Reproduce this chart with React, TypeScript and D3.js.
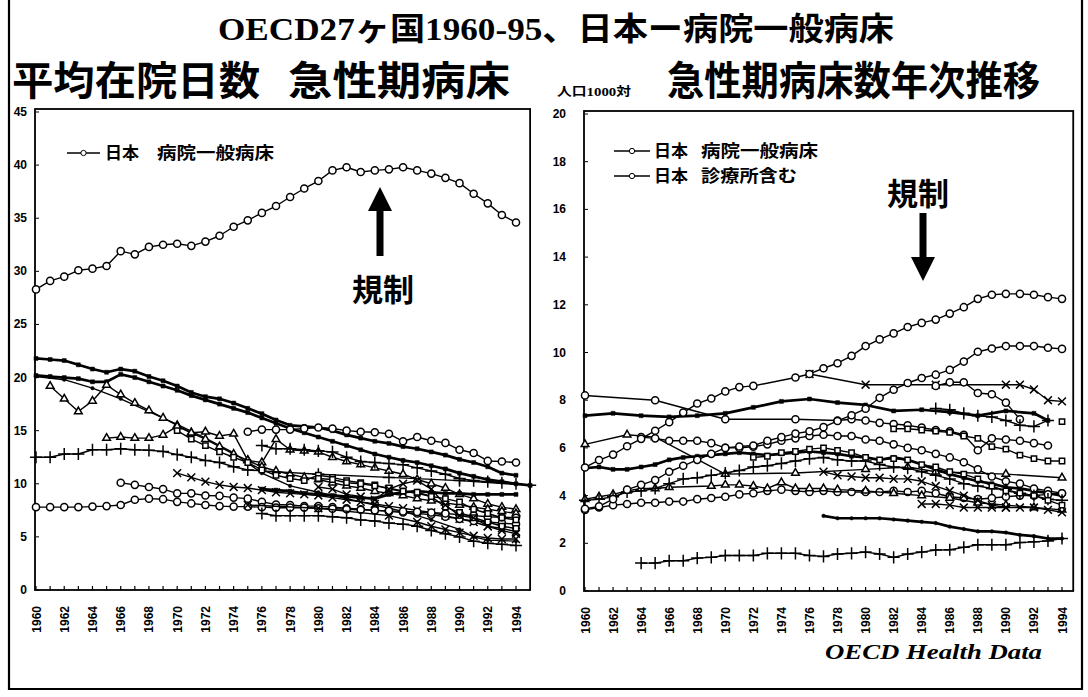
import * as d3 from "d3";
import React, { useEffect, useRef } from "react";

type Pt = [number, number];

function yearly(start: number, vals: number[]): Pt[] {
    return vals.map((v, i) => [start + i, v] as Pt);
}

// ---- left chart: average length of stay (days), acute beds ----
const leftJapan = yearly(1960, [28.3, 29.1, 29.5, 30.1, 30.25, 30.5, 31.9, 31.6, 32.3, 32.5, 32.6, 32.4, 32.8, 33.35, 34.2, 34.8, 35.5, 36.15, 37.0, 37.8, 38.5, 39.5, 39.8, 39.35, 39.5, 39.6, 39.8, 39.5, 39.2, 38.8, 38.3, 37.3, 36.4, 35.3, 34.6]);
const leftA = yearly(1960, [21.8, 21.7, 21.6, 21.2, 20.8, 20.5, 20.8, 20.6, 20.1, 19.7, 19.2, 18.6, 18.2, 18.0, 17.6, 17.1, 16.6, 16.0, 15.5, 15.4, 15.3, 15.0, 14.6, 14.3, 14.0, 13.8, 13.5, 13.3, 13.0, 12.7, 12.3, 12.0, 11.6, 11.0, 10.8]);
const leftB = yearly(1960, [20.2, 20.1, 20.0, 19.9, 19.6, 19.6, 20.3, 20.0, 19.6, 19.2, 18.8, 18.3, 17.9, 17.5, 17.1, 16.7, 16.2, 15.7, 15.2, 14.8, 14.4, 14.0, 13.6, 13.2, 12.8, 12.5, 12.2, 12.0, 11.7, 11.4, 11.0, 10.7, 10.4, 10.2, 10.0, 9.85]);
const leftC: Pt[] = [[1960, 20.1], [1962, 19.8], [1964, 19.0], [1966, 18.0], [1968, 16.8], [1970, 15.6], [1972, 14.3], [1974, 12.9], [1976, 11.0], [1978, 9.8], [1980, 9.2], [1982, 8.6], [1984, 8.0], [1986, 7.4], [1988, 6.6], [1990, 5.7], [1991, 5.0], [1992, 4.7], [1994, 4.6]];
const leftTri1 = yearly(1961, [19.2, 18.0, 16.8, 17.8, 19.3, 18.4, 17.6, 16.9, 16.2, 15.5, 14.8, 14.2, 13.5, 12.8, 12.2, 12.0, 14.2, 13.2, 13.1, 13.0, 12.5, 12.1, 11.8, 11.5, 11.2, 10.9, 10.4, 10.0, 9.6, 9.0, 8.6, 8.1, 7.8, 7.6]);
const leftTri2 = yearly(1965, [14.3, 14.4, 14.3, 14.3, 14.6, 15.4, 14.8, 14.9, 14.5, 14.7, 12.2, 11.6, 11.2, 10.9, 10.6, 10.4, 10.1, 9.8, 9.6, 9.3, 9.1, 8.9, 8.6, 8.4, 8.2, 8.0, 7.8, 7.6, 7.4, 7.2]);
const leftPlus1: Pt[] = [...yearly(1960, [12.5, 12.5, 12.8, 12.8, 13.2, 13.2, 13.3, 13.2, 13.15, 13.05, 12.75, 12.5, 12.2, 12.0, 11.6, 11.3]), [1980, 10.9], [1985, 10.6], [1990, 10.3], [1995, 9.85]];
const leftPlus2 = yearly(1976, [13.6, 13.3, 13.3, 13.2, 13.1, 13.0, 12.5, 12.1, 12.0, 11.9, 11.8, 11.5, 11.2, 10.9, 10.5, 10.3, 10.2, 10.1, 10.0]);
const leftCirc1 = yearly(1975, [14.9, 15.1, 15.1, 15.1, 15.2, 15.3, 15.2, 15.0, 14.9, 14.85, 14.7, 14.0, 14.4, 14.05, 13.85, 13.2, 12.9, 12.15, 12.1, 12.0]);
const leftX1 = yearly(1970, [11.0, 10.6, 10.2, 9.9, 9.7, 9.6, 9.4, 9.2, 9.1, 9.0, 8.9, 8.7, 8.5, 8.3, 8.1, 7.9, 7.7, 7.5, 7.3, 7.0, 6.7, 6.4, 6.0, 5.8, 5.5]);
const leftCirc2 = yearly(1966, [10.1, 9.9, 9.7, 9.5, 9.1, 9.1, 8.9, 8.86, 8.7, 8.6, 8.3, 8.05, 8.0, 7.9, 7.9, 7.8, 7.7, 7.6, 7.5, 7.4, 7.3, 7.2, 7.1, 6.9, 6.7, 6.5, 6.4, 6.3, 6.2]);
const leftCirc3 = yearly(1960, [7.8, 7.8, 7.8, 7.8, 7.85, 7.9, 8.0, 8.5, 8.6, 8.55, 8.3, 8.15, 8.0, 7.9, 7.85, 7.85, 7.8, 7.75, 7.75, 7.75, 7.7, 7.65, 7.6, 7.55, 7.5, 7.45, 7.4, 7.35, 7.3, 7.2, 7.1, 7.0, 6.9, 6.85, 6.8]);
const leftSq1 = yearly(1970, [15.0, 14.2, 13.6, 13.0, 12.5, 12.0, 11.3, 10.8, 10.5, 10.3, 10.8, 10.6, 10.3, 10.1, 9.9, 9.5, 9.3, 9.1, 8.8, 8.6, 8.3, 7.6, 7.2, 6.8, 6.6]);
const leftSq2 = yearly(1976, [9.5, 9.4, 9.3, 9.1, 9.0, 8.9, 8.8, 8.7, 8.6, 9.0, 9.2, 9.3, 9.2, 9.1, 9.1, 9.0, 9.0, 9.0, 9.0]);
const leftSq3 = yearly(1980, [10.5, 10.4, 10.1, 10.0, 9.8, 9.6, 9.3, 9.2, 8.8, 7.8, 7.3, 6.8, 6.4, 6.0, 5.8]);
const leftPlus3 = yearly(1976, [7.2, 7.0, 7.0, 7.0, 7.0, 6.9, 6.8, 6.6, 6.5, 6.3, 6.2, 6.0, 5.6, 5.3, 5.0, 4.6, 4.4, 4.3, 4.2]);
const leftX2 = yearly(1980, [9.7, 9.5, 9.0, 8.8, 8.5, 9.5, 10.0, 10.3, 9.5, 8.0, 7.0, 6.8, 6.0, 5.6, 5.3]);
const leftX3: Pt[] = [[1975, 8.0], [1980, 7.7], [1985, 7.0], [1987, 6.4], [1988, 6.0], [1989, 5.7], [1990, 5.4], [1991, 5.1], [1992, 4.9], [1993, 4.8], [1994, 4.8]];

// ---- right chart: acute beds per 1000 population ----
const rightJapanHosp: Pt[] = [...yearly(1960, [5.18, 5.49, 5.72, 6.07, 6.38, 6.72, 7.08, 7.48, 7.86, 8.07, 8.37, 8.55, 8.6]), ...yearly(1975, [8.95, 9.1, 9.34, 9.55, 9.86, 10.27, 10.55, 10.8, 11.07, 11.24, 11.38, 11.63, 11.9, 12.25, 12.42, 12.46, 12.46, 12.42, 12.32, 12.25])];
const rightJapanClinic = yearly(1960, [3.45, 3.55, 3.85, 4.25, 4.45, 4.65, 5.0, 5.25, 5.5, 5.75, 6.0, 6.06, 6.1, 6.3, 6.45, 6.6, 6.7, 6.87, 7.13, 7.37, 7.64, 8.1, 8.44, 8.72, 8.93, 9.07, 9.27, 9.62, 10.03, 10.17, 10.27, 10.27, 10.27, 10.2, 10.15]);
const rightC: Pt[] = [[1960, 8.2], [1965, 8.0], [1970, 7.2], [1975, 7.2], ...yearly(1978, [7.15, 7.2, 7.15, 7.05, 7.0, 6.95, 6.85, 6.75, 6.7, 6.55, 5.9, 6.4, 6.35, 6.3, 6.2, 6.1])];
const rightD: Pt[] = [[1976, 9.1], [1980, 8.65], [1985, 8.65], [1990, 8.65], [1991, 8.65], [1992, 8.45], [1993, 8.0], [1994, 7.95]];
const rightE = yearly(1985, [8.6, 8.75, 8.75, 8.3, 8.25, 7.9, 7.2]);
const rightF: Pt[] = [[1960, 7.35], [1962, 7.45], [1964, 7.35], [1966, 7.3], [1968, 7.35], [1970, 7.45], [1972, 7.7], [1974, 7.95], [1976, 8.05], [1978, 7.9], [1980, 7.8], [1982, 7.55], [1984, 7.6], [1986, 7.5], [1988, 7.35], [1990, 7.55], [1992, 7.45], [1993, 7.15]];
const rightG = yearly(1985, [7.65, 7.6, 7.45, 7.35, 7.3, 7.15, 6.95, 6.9, 7.15]);
const rightLone: Pt[] = [[1994, 7.1]];
const rightH: Pt[] = [[1960, 6.15], [1963, 6.55], [1965, 6.45], [1970, 4.9], [1975, 4.95], [1980, 5.1], [1983, 5.2], [1985, 5.0], [1990, 4.9], [1994, 4.75]];
const rightI = yearly(1964, [6.45, 6.4, 6.3, 6.3, 6.3, 6.2, 6.0, 6.0, 6.05, 6.15, 6.3, 6.4, 6.5, 6.55, 6.5, 6.5, 6.35, 6.3, 6.15, 6.0, 5.9, 5.75, 5.6, 5.4, 5.1, 4.8, 4.6, 4.5, 4.3, 4.2, 4.1]);
const rightJ = yearly(1982, [6.8, 6.8, 6.75, 6.7, 6.65, 6.5, 6.4, 6.05, 5.95, 5.7, 5.55, 5.45, 5.45]);
const rightK = yearly(1960, [3.4, 3.5, 3.6, 3.65, 3.7, 3.7, 3.75, 3.75, 3.85, 3.9, 3.95, 4.05, 4.1, 4.2, 4.25, 4.2, 4.15, 4.2, 4.15, 4.15, 4.15, 4.15, 4.2, 4.15, 4.2, 4.1, 3.95, 3.9, 3.85, 3.9, 3.95, 4.0, 4.0, 4.05, 4.1]);
const rightL: Pt[] = [[1960, 3.85], [1961, 3.95], [1962, 4.05], [1963, 4.2], [1964, 4.3], [1965, 4.3], [1966, 4.35], [1969, 4.4], [1970, 4.45], [1971, 4.45], [1972, 4.4], [1973, 4.3], [1974, 4.55], [1975, 4.3], [1976, 4.3], [1977, 4.3], [1978, 4.25], [1980, 4.2], [1982, 4.1], [1984, 4.0], [1986, 3.9], [1988, 3.7], [1990, 3.6], [1992, 3.5], [1994, 3.4]];
const rightM = yearly(1960, [3.8, 3.85, 3.95, 4.15, 4.2, 4.3, 4.5, 4.7, 4.75, 4.85, 4.95, 5.05, 5.2, 5.25, 5.35, 5.45, 5.55, 5.6, 5.5, 5.45, 5.45, 5.3, 5.2, 5.15, 5.0, 4.85, 4.7, 4.5, 4.4, 4.3, 4.25, 4.1, 4.0, 3.85, 3.8]);
const rightN = yearly(1960, [5.15, 5.2, 5.1, 5.1, 5.2, 5.3, 5.5, 5.6, 5.65, 5.7, 5.75, 5.8, 5.75, 5.7, 5.75, 5.8, 5.85, 5.8, 5.75, 5.65, 5.6, 5.5, 5.6, 5.5, 5.3, 5.1, 4.9, 4.75, 4.6, 4.5, 4.35, 4.3, 4.2, 4.1, 4.0]);
const rightO = yearly(1972, [5.6, 5.65, 5.8, 5.85, 5.95, 6.0, 5.9, 5.8, 5.6, 5.5, 5.55, 5.5, 5.3, 5.2, 5.0, 4.9, 4.7, 4.4, 4.2, 4.1, 4.0, 3.8, 3.6]);
const rightX1 = yearly(1977, [5.0, 4.85, 4.8, 4.75, 4.75, 4.7, 4.7, 4.6, 4.4, 4.2, 4.0, 3.8, 3.6, 3.5]);
const rightX2 = yearly(1984, [3.65, 3.65, 3.6, 3.5, 3.5, 3.5, 3.5, 3.5, 3.5, 3.4, 3.3]);
const rightBottom1 = yearly(1964, [1.17, 1.17, 1.27, 1.27, 1.38, 1.41, 1.49, 1.49, 1.49, 1.58, 1.58, 1.58, 1.49, 1.45, 1.55, 1.58, 1.63, 1.55, 1.41, 1.55, 1.63, 1.72, 1.73, 1.83, 1.94, 1.94, 1.94, 2.03, 2.06, 2.1, 2.2]);
const rightBottom2 = yearly(1977, [3.15, 3.05, 3.05, 3.05, 3.05, 3.0, 2.95, 2.9, 2.85, 2.7, 2.6, 2.5, 2.5, 2.45, 2.35, 2.3, 2.2, 2.2]);

const leftTicks = [0, 5, 10, 15, 20, 25, 30, 35, 40, 45];
const rightTicks = [0, 2, 4, 6, 8, 10, 12, 14, 16, 18, 20];
const yearLabels = d3.range(1960, 1995, 2);

const leftLegend = ["日本", "病院一般病床"];
const rightLegend = [["日本", "病院一般病床"], ["日本", "診療所含む"]];

function symbolFor(mark: string) {
    switch (mark) {
        case "circle": return d3.symbol(d3.symbolCircle, 40)();
        case "square": return d3.symbol(d3.symbolSquare2, 36)();
        case "tri": return d3.symbol(d3.symbolTriangle2, 42)();
        case "plus": return d3.symbol(d3.symbolPlus, 50)();
        case "x": return d3.symbol(d3.symbolTimes, 42)();
        case "fsq": return d3.symbol(d3.symbolSquare, 16)();
        case "dot": return d3.symbol(d3.symbolCircle, 10)();
        default: return null;
    }
}

function drawPanel(svg: any, opt: any) {
    const { x0, x1, yTop, yBot, domainMax, ticks, series, xMax, labelGap } = opt;
    const x = d3.scaleLinear().domain([1960, 1994]).range([x0, x1]);
    const y = d3.scaleLinear().domain([0, domainMax]).range([yBot, yTop]);
    const g = svg.append("g");

    // plot frame
    g.append("rect")
        .attr("x", x0 - 1).attr("y", yTop - 3)
        .attr("width", x(xMax) - x0 + 1).attr("height", yBot - yTop + 3)
        .attr("fill", "none").attr("stroke", "#000").attr("stroke-width", 1.8);

    // x ticks every year, labels every 2 years
    g.selectAll(".xt").data(d3.range(1960, 1995)).enter().append("line")
        .attr("x1", (d: number) => x(d)).attr("x2", (d: number) => x(d))
        .attr("y1", yBot).attr("y2", yBot - 4)
        .attr("stroke", "#000").attr("stroke-width", 1.2);
    g.selectAll(".xl").data(yearLabels).enter().append("text")
        .attr("transform", (d: number) => `translate(${x(d) + 4.5},${yBot + 16}) rotate(-90)`)
        .attr("text-anchor", "end")
        .style("font", "bold 12px 'Liberation Sans', Arial, sans-serif")
        .text((d: number) => d);

    // y ticks and labels
    g.selectAll(".yt").data(ticks).enter().append("line")
        .attr("x1", x0).attr("x2", x0 + 3)
        .attr("y1", (d: number) => y(d)).attr("y2", (d: number) => y(d))
        .attr("stroke", "#000");
    g.selectAll(".yl").data(ticks).enter().append("text")
        .attr("x", x0 - labelGap).attr("y", (d: number) => y(d) + 4)
        .attr("text-anchor", "end")
        .style("font", "bold 12px 'Liberation Sans', Arial, sans-serif")
        .text((d: number) => d);

    const line = d3.line<Pt>().x(d => x(d[0])).y(d => y(d[1]));
    series.forEach((s: any) => {
        g.append("path").attr("d", line(s.pts))
            .attr("fill", "none").attr("stroke", "#000")
            .attr("stroke-width", s.thick ? 2.7 : 1.4)
            .attr("stroke-linejoin", "round");
        const sym = symbolFor(s.mark);
        if (!sym) return;
        const filled = s.mark === "fsq" || s.mark === "dot";
        g.selectAll(null).data(s.pts).enter().append("path")
            .attr("d", sym)
            .attr("transform", (d: Pt) => `translate(${x(d[0])},${y(d[1])})`)
            .attr("fill", filled ? "#000" : "#fff")
            .attr("stroke", "#000").attr("stroke-width", filled ? 0.5 : 1.5);
    });
    return { x, y };
}

function arrow(svg: any, cx: number, shaftTop: number, shaftBot: number, tip: number, headBase: number) {
    const up = tip < headBase;
    svg.append("rect").attr("x", cx - 3.5).attr("width", 7)
        .attr("y", up ? headBase - 1 : shaftTop).attr("height", up ? shaftBot - headBase + 1 : headBase - shaftTop + 1)
        .attr("fill", "#000");
    svg.append("path")
        .attr("d", `M${cx - 12},${headBase}L${cx + 12},${headBase}L${cx},${tip}Z`)
        .attr("fill", "#000");
}

function InitChart(ref: React.RefObject<SVGSVGElement>) {
    const svg = d3.select(ref.current);
    svg.selectAll("*").remove();
    const cjk = "'Noto Sans CJK JP', sans-serif";

    // outer frame
    svg.append("path").attr("d", "M9,0L9,689L1082,689L1082,0")
        .attr("fill", "none").attr("stroke", "#000").attr("stroke-width", 2.2);

    // titles
    svg.append("text").attr("x", 218).attr("y", 40).attr("textLength", 676).attr("lengthAdjust", "spacingAndGlyphs")
        .style("font", `bold 32px 'Liberation Serif', ${cjk}`)
        .text("OECD27ヶ国1960-95、日本ー病院一般病床");
    svg.append("text").attr("x", 12).attr("y", 95).attr("textLength", 248).attr("lengthAdjust", "spacingAndGlyphs")
        .style("font", `bold 40px ${cjk}`).text("平均在院日数");
    svg.append("text").attr("x", 288).attr("y", 95).attr("textLength", 222).attr("lengthAdjust", "spacingAndGlyphs")
        .style("font", `bold 40px ${cjk}`).text("急性期病床");
    svg.append("text").attr("x", 557).attr("y", 96).attr("textLength", 74).attr("lengthAdjust", "spacingAndGlyphs")
        .style("font", `bold 12px 'Liberation Serif', ${cjk}`).text("人口1000対");
    svg.append("text").attr("x", 667).attr("y", 95).attr("textLength", 373).attr("lengthAdjust", "spacingAndGlyphs")
        .style("font", `bold 40px ${cjk}`).text("急性期病床数年次推移");

    const leftSeries = [
        { pts: leftA, mark: "fsq", thick: true },
        { pts: leftB, mark: "fsq", thick: true },
        { pts: leftC, mark: "dot", thick: false },
        { pts: leftTri1, mark: "tri", thick: false },
        { pts: leftTri2, mark: "tri", thick: false },
        { pts: leftPlus1, mark: "plus", thick: false },
        { pts: leftPlus2, mark: "plus", thick: false },
        { pts: leftX1, mark: "x", thick: false },
        { pts: leftCirc2, mark: "circle", thick: false },
        { pts: leftCirc3, mark: "circle", thick: false },
        { pts: leftSq1, mark: "square", thick: false },
        { pts: leftSq2, mark: "fsq", thick: true },
        { pts: leftSq3, mark: "square", thick: false },
        { pts: leftPlus3, mark: "plus", thick: false },
        { pts: leftX2, mark: "x", thick: false },
        { pts: leftX3, mark: "x", thick: false },
        { pts: leftCirc1, mark: "circle", thick: false },
        { pts: leftJapan, mark: "circle", thick: false },
    ];
    drawPanel(svg, { x0: 36, x1: 516, yTop: 112, yBot: 590, domainMax: 45, ticks: leftTicks, series: leftSeries, xMax: 1995, labelGap: 9 });

    const rightSeries = [
        { pts: rightF, mark: "fsq", thick: true },
        { pts: rightN, mark: "fsq", thick: true },
        { pts: rightC, mark: "circle", thick: false },
        { pts: rightD, mark: "x", thick: false },
        { pts: rightE, mark: "circle", thick: false },
        { pts: rightG, mark: "plus", thick: false },
        { pts: rightLone, mark: "square", thick: false },
        { pts: rightH, mark: "tri", thick: false },
        { pts: rightI, mark: "circle", thick: false },
        { pts: rightJ, mark: "square", thick: false },
        { pts: rightK, mark: "circle", thick: false },
        { pts: rightL, mark: "tri", thick: false },
        { pts: rightM, mark: "plus", thick: false },
        { pts: rightO, mark: "square", thick: false },
        { pts: rightX1, mark: "x", thick: false },
        { pts: rightX2, mark: "x", thick: false },
        { pts: rightBottom1, mark: "plus", thick: false },
        { pts: rightBottom2, mark: "dot", thick: true },
        { pts: rightJapanClinic, mark: "circle", thick: false },
        { pts: rightJapanHosp, mark: "circle", thick: false },
    ];
    drawPanel(svg, { x0: 585, x1: 1062, yTop: 114, yBot: 591, domainMax: 20, ticks: rightTicks, series: rightSeries, xMax: 1994.8, labelGap: 19 });

    // legends
    const legFont = `bold 17px ${cjk}`;
    const circ = d3.symbol(d3.symbolCircle, 22)();
    svg.append("line").attr("x1", 67).attr("x2", 100).attr("y1", 153).attr("y2", 153).attr("stroke", "#000").attr("stroke-width", 1.4);
    svg.append("path").attr("d", circ).attr("transform", "translate(83.5,153)").attr("fill", "#fff").attr("stroke", "#000");
    svg.append("text").attr("x", 105).attr("y", 159).style("font", legFont).text(leftLegend[0]);
    svg.append("text").attr("x", 157).attr("y", 159).attr("textLength", 117).attr("lengthAdjust", "spacingAndGlyphs").style("font", legFont).text(leftLegend[1]);
    rightLegend.forEach((l, i) => {
        const ly = 151 + i * 25;
        svg.append("line").attr("x1", 614).attr("x2", 650).attr("y1", ly).attr("y2", ly).attr("stroke", "#000").attr("stroke-width", 1.4);
        svg.append("path").attr("d", circ).attr("transform", `translate(632,${ly})`).attr("fill", "#fff").attr("stroke", "#000");
        svg.append("text").attr("x", 654).attr("y", ly + 6).style("font", legFont).text(l[0]);
        svg.append("text").attr("x", 701).attr("y", ly + 6).attr("textLength", i === 0 ? 117 : 96).attr("lengthAdjust", "spacingAndGlyphs").style("font", legFont).text(l[1]);
    });

    // regulation arrows
    arrow(svg, 380, 0, 256, 187, 211);
    svg.append("text").attr("x", 383).attr("y", 301).attr("text-anchor", "middle").style("font", `bold 31px ${cjk}`).text("規制");
    arrow(svg, 923, 213, 0, 281, 257);
    svg.append("text").attr("x", 918).attr("y", 205).attr("text-anchor", "middle").style("font", `bold 31px ${cjk}`).text("規制");

    // source
    svg.append("text").attr("x", 825).attr("y", 659).attr("textLength", 217).attr("lengthAdjust", "spacingAndGlyphs")
        .style("font", "italic bold 22px 'Liberation Serif', serif").text("OECD Health Data");
}

export default function App() {
    const svg = useRef<SVGSVGElement>(null);
    useEffect(() => {
        InitChart(svg);
    });
    return (
        <svg ref={svg} width={1088} height={697} viewBox="0 0 1088 697"
            style={{ position: "absolute", left: 0, top: 0, background: "#fff" }}></svg>
    );
}
